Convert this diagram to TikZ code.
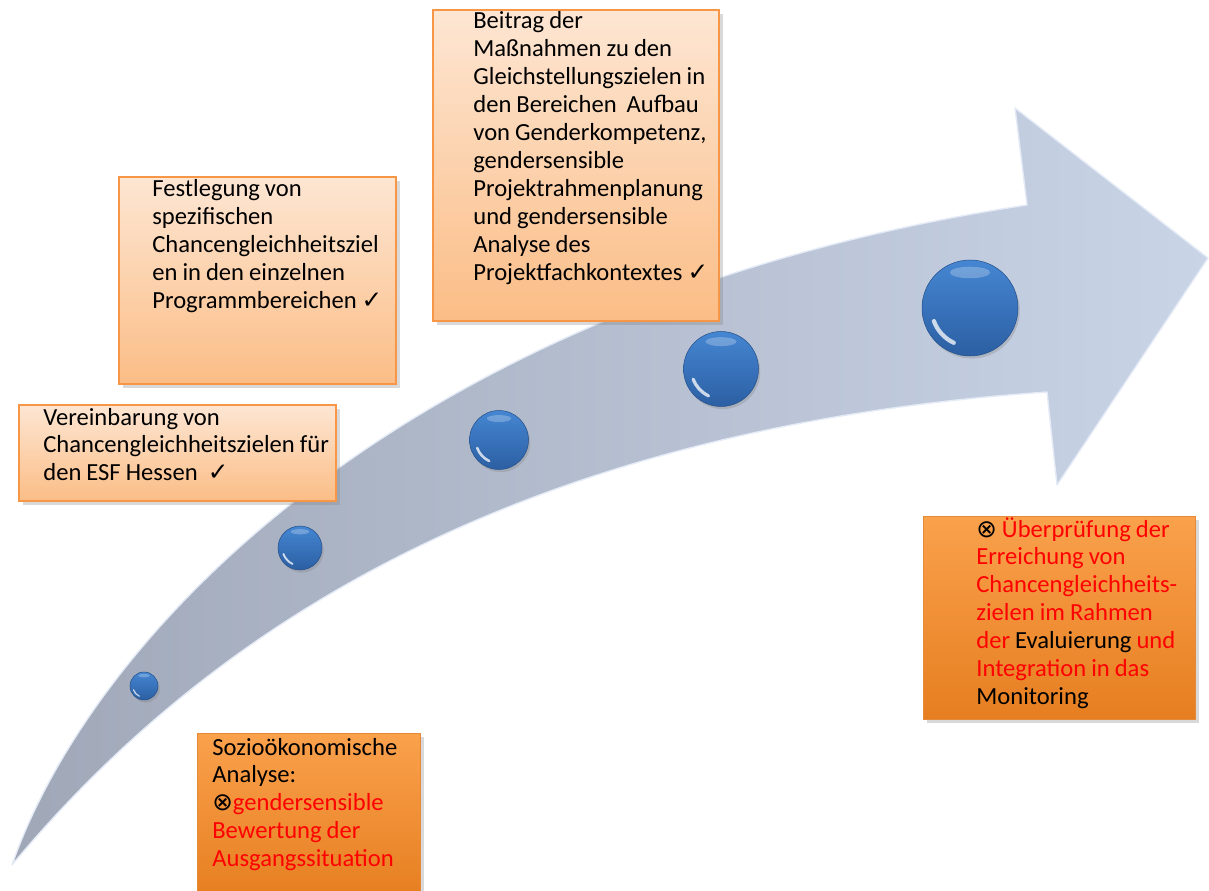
\documentclass[tikz,border=0pt]{standalone}
\usepackage{fontspec}
\setmainfont{Carlito}[WordSpace=0.9]
\newfontfamily\symfont{DejaVu Sans}
\usetikzlibrary{shadows}
\definecolor{peachtop}{HTML}{FDE6D3}
\definecolor{peachbot}{HTML}{FBBD86}
\definecolor{peachrim}{HTML}{F79646}
\definecolor{ortop}{HTML}{FAA14C}
\definecolor{orbot}{HTML}{E67E20}
\definecolor{orrim}{HTML}{E58A3A}
\definecolor{shafttail}{HTML}{A0A8B8}
\definecolor{shafthead}{HTML}{C9D4E7}
\definecolor{shaftrim}{HTML}{E4EBF6}
\definecolor{balltop}{HTML}{4586D2}
\definecolor{ballbot}{HTML}{2C5FA3}
\definecolor{warn}{HTML}{FF0000}
\newcommand{\chk}{{\symfont ✓}}
\newcommand{\kreuz}{{\color{black}\symfont ⊗}}
\tikzset{
  shaft/.style={left color=shafttail, right color=shafthead, draw=shaftrim, line width=0.8pt, line join=round},
  pearl/.style={circle, inner sep=0pt, top color=balltop, bottom color=ballbot, draw=ballbot!85!black, line width=0.3pt,
    drop shadow={opacity=0.3, shadow xshift=1pt, shadow yshift=-1.5pt}},
  glint/.style={draw=white, opacity=0.75, line cap=round},
  softbox/.style={rectangle, anchor=north west, inner sep=0pt, top color=peachtop, bottom color=peachbot,
    draw=peachrim, line width=1.2pt, drop shadow={opacity=0.3, shadow xshift=2pt, shadow yshift=-2pt}},
  hotbox/.style={rectangle, anchor=north west, inner sep=0pt, top color=ortop, bottom color=orbot,
    draw=orrim, line width=0.8pt, drop shadow={opacity=0.3, shadow xshift=2pt, shadow yshift=-2pt}},
  lab/.style={anchor=base west, inner sep=0pt, align=flush left, text width=7cm, font=\fontsize{14}{15.9}\selectfont}
}
\begin{document}
\begin{tikzpicture}[x=0.02cm, y=-0.02cm]
  \clip (0,0) rectangle (1209,891);
  % bent arrow
  \path[shaft] (12,865) .. controls (90,640) and (400,300) .. (1027,205) -- (1015,108) -- (1208,258)
    -- (1057,485) -- (1047,392) .. controls (500,430) and (200,640) .. (12,865) -- cycle;
  % pearls along the arrow
  \node[pearl, minimum size=0.56cm] (p1) at (144,686) {};
  \node[pearl, minimum size=0.88cm] (p2) at (300,548) {};
  \node[pearl, minimum size=1.18cm] (p3) at (499,440) {};
  \node[pearl, minimum size=1.5cm]  (p4) at (721,369) {};
  \node[pearl, minimum size=1.92cm] (p5) at (970,308) {};
  \foreach \b/\r in {p1/14,p2/22,p3/29,p4/37,p5/48} {
    \draw[glint, line width=0.05*\r pt] ([shift={(115:0.8*\r)}]\b.center) arc[start angle=115, end angle=160, radius=0.8*\r];
    \fill[white, opacity=0.25] ([shift={(0,-0.74*\r)}]\b.center) ellipse[x radius=0.42*\r, y radius=0.12*\r];
  }
  % boxes
  \node[softbox, minimum width=6.34cm, minimum height=1.92cm] (boxVer) at (18,404) {};
  \node[softbox, minimum width=5.54cm, minimum height=4.14cm] (boxFest) at (118,176) {};
  \node[softbox, minimum width=5.72cm, minimum height=6.22cm] (boxBei) at (432,9) {};
  \node[hotbox, minimum width=5.44cm, minimum height=4.06cm] (boxUeb) at (923,516) {};
  \node[hotbox, minimum width=4.46cm, minimum height=3.3cm] (boxSoz) at (197,733) {};
  % texts
  \node[lab] (txVer) at ([shift={(25,21)}]boxVer.north west)
    {Vereinbarung von\\Chancengleichheitszielen für\\den ESF Hessen \ \chk};
  \node[lab] (txFest) at ([shift={(34,21)}]boxFest.north west)
    {Festlegung von\\spezifischen\\Chancengleichheitsziel\\en in den einzelnen\\Programmbereichen \chk};
  \node[lab] (txBei) at ([shift={(41,20)}]boxBei.north west)
    {Beitrag der\\Maßnahmen zu den\\Gleichstellungszielen in\\den Bereichen \ Aufbau\\von Genderkompetenz,\\gendersensible\\Projektrahmenplanung\\und gendersensible\\Analyse des\\Projektfachkontextes \chk};
  \node[lab, text=warn] (txUeb) at ([shift={(53,21)}]boxUeb.north west)
    {\kreuz\ Überprüfung der\\Erreichung von\\Chancengleichheits-\\zielen im Rahmen\\der \textcolor{black}{Evaluierung} und\\Integration in das\\\textcolor{black}{Monitoring}};
  \node[lab] (txSoz) at ([shift={(15,22)}]boxSoz.north west)
    {Sozioökonomische\\Analyse:\\\kreuz\textcolor{warn}{gendersensible}\\\textcolor{warn}{Bewertung der}\\\textcolor{warn}{Ausgangssituation}};
\end{tikzpicture}
\end{document}
